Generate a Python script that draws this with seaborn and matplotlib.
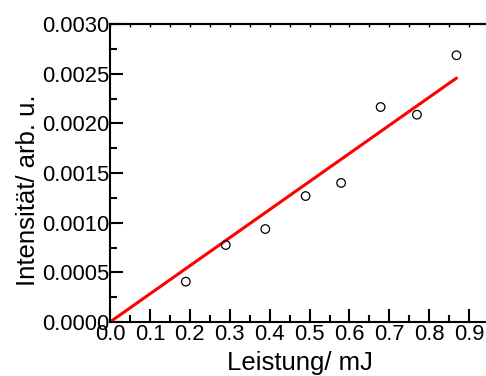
import numpy as np
import pandas as pd
import matplotlib
matplotlib.use("Agg")
import matplotlib.pyplot as plt
from matplotlib.ticker import MultipleLocator, FormatStrFormatter
import seaborn as sns

# Measured pulse energy and signal intensity
leistung = [0.19, 0.29, 0.389, 0.49, 0.579, 0.678, 0.769, 0.868]
intensitaet = [0.000406, 0.000775, 0.000936, 0.001268, 0.00140, 0.002164, 0.002087, 0.002685]

x_label = "Leistung/ mJ"
y_label = "Intensität/ arb. u."

df = pd.DataFrame({"x": leistung, "y": intensitaet})

# Linear fit through the origin
xs = np.asarray(leistung)
ys = np.asarray(intensitaet)
slope = np.sum(xs * ys) / np.sum(xs * xs)
fit = pd.DataFrame({"x": [0.0, xs.max()], "y": [0.0, slope * xs.max()]})

sns.set_style("white")
plt.rcParams["font.family"] = ["Liberation Sans", "DejaVu Sans"]
plt.rcParams.update({"text.color": "black", "axes.labelcolor": "black",
                     "xtick.color": "black", "ytick.color": "black"})

fig = plt.figure(figsize=(4.86, 3.76), dpi=100)
ax = fig.add_axes([110 / 486, 1 - 322 / 376, 1 - 110 / 486, (322 - 24) / 376])

sns.lineplot(data=fit, x="x", y="y", ax=ax, color="#ff0000", linewidth=2.2, zorder=2)
sns.scatterplot(data=df, x="x", y="y", ax=ax, marker="o", s=38,
                facecolor="none", edgecolor="black", linewidth=0.9, zorder=3)

ax.set_xlim(0, 0.942)
ax.set_ylim(0, 0.0030)

ax.xaxis.set_major_locator(MultipleLocator(0.1))
ax.xaxis.set_minor_locator(MultipleLocator(0.05))
ax.yaxis.set_major_locator(MultipleLocator(0.0005))
ax.yaxis.set_minor_locator(MultipleLocator(0.00025))
ax.xaxis.set_major_formatter(FormatStrFormatter("%.1f"))
ax.yaxis.set_major_formatter(FormatStrFormatter("%.4f"))

ax.tick_params(which="both", direction="in", width=1.5, color="black",
               labelcolor="black", labelsize=15.8,
               top=False, right=False, bottom=True, left=True)
ax.tick_params(which="major", length=9.4)
ax.tick_params(which="minor", length=5)
ax.tick_params(axis="x", which="major", pad=1.5)
ax.tick_params(axis="y", which="major", pad=0.8)

for side in ["left", "bottom", "top"]:
    ax.spines[side].set_visible(True)
    ax.spines[side].set_linewidth(1.5)
    ax.spines[side].set_color("black")
ax.spines["right"].set_visible(False)

# Short ticks along the top edge
top = ax.secondary_xaxis("top")
top.xaxis.set_major_locator(MultipleLocator(0.05))
top.tick_params(direction="in", length=2.5, width=1.0, labeltop=False, color="black")
top.spines["top"].set_linewidth(1.5)

ax.set_xlabel(x_label, fontsize=18.5, color="black")
ax.set_ylabel(y_label, fontsize=18.5, color="black")
ax.xaxis.set_label_coords(0.505, -0.097)
ax.yaxis.set_label_coords(-0.187, 0.443)
ax.grid(False)

fig.savefig("out.png", dpi=100)
